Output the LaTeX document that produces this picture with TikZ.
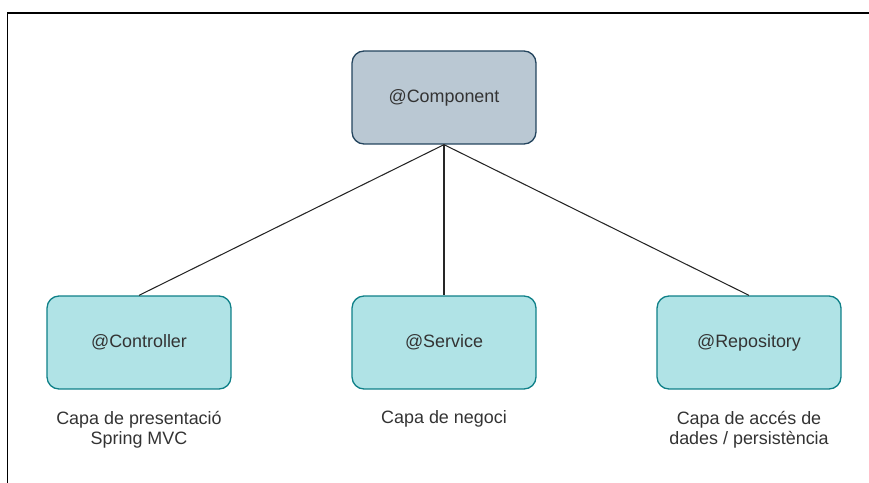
\documentclass[tikz,border=0pt]{standalone}
\usepackage{fontspec}
\setmainfont{Liberation Sans}
\usetikzlibrary{positioning}
\definecolor{compfill}{HTML}{BAC8D3}
\definecolor{compdraw}{HTML}{23445D}
\definecolor{layerfill}{HTML}{B0E3E6}
\definecolor{layerdraw}{HTML}{0E8088}
\definecolor{textgray}{HTML}{333333}

\begin{document}
\begin{tikzpicture}[x=0.02cm, y=-0.02cm,
        box/.style={rectangle, rounded corners=0.24cm, line width=0.75pt, minimum width=3.68cm, minimum height=1.86cm, text=textgray, font=\fontsize{10.2}{12.6}\selectfont},
        layer/.style={box, draw=layerdraw, fill=layerfill},
        caption/.style={align=center, inner sep=0pt, text=textgray, font=\fontsize{10.2}{11.6}\selectfont}
    ]
        \useasboundingbox (0,0) rectangle (869,483);
        \draw[line width=0.85pt] (7.5,483) -- (7.5,13) -- (869,13);

        \node[box, draw=compdraw, fill=compfill] (component) at (444, 97.5) {@Component};
        \node[layer] (controller) at (139, 342.5) {@Controller};
        \node[layer] (service) at (444, 342.5) {@Service};
        \node[layer] (repository) at (749, 342.5) {@Repository};

        \draw[line width=0.6pt, black!85] (component.south) -- (controller.north);
        \draw[line width=0.6pt, black!85] (component.south) -- (service.north);
        \draw[line width=0.6pt, black!85] (component.south) -- (repository.north);

        \node[caption, below=0.42cm of controller] (ctrlcap) {Capa de presentació\\Spring MVC};
        \node[caption, below=0.42cm of service] (servcap) {Capa de negoci};
        \node[caption, below=0.42cm of repository] (repocap) {Capa de accés de\\dades / persistència};
    \end{tikzpicture}
\end{document}
